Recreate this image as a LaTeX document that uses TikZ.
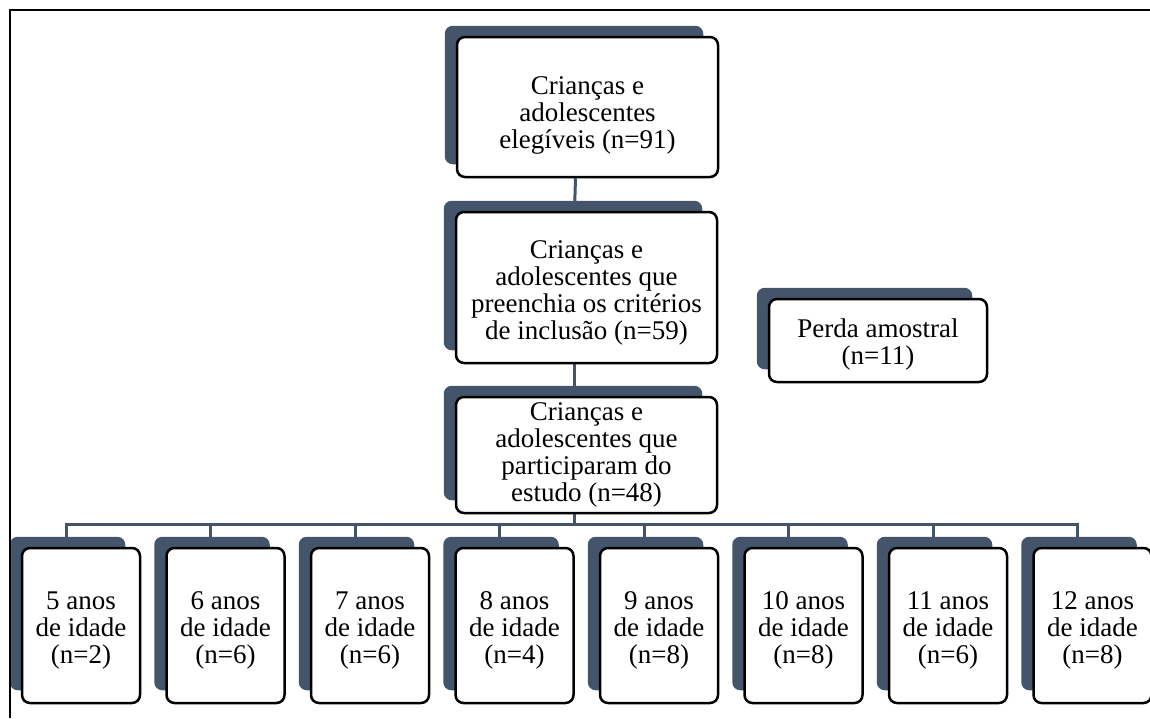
\documentclass[tikz,border=0pt]{standalone}
\usepackage{fontspec}
\setmainfont{Liberation Serif}
\usetikzlibrary{backgrounds}
\definecolor{slate}{HTML}{44546A}
\newcommand{\tstrut}[1]{\rule{0pt}{#1pt}}
\tikzset{
  box/.style={draw=black, line width=2.5pt, rounded corners=8pt, fill=white, align=center,
    inner sep=0pt, font=\fontsize{27}{27}\selectfont},
  link/.style={draw=slate, line width=3pt},
  shadowfill/.style={fill=slate, rounded corners=8pt}
}
\newcommand{\boxshadow}[1]{%
  \fill[shadowfill] ([xshift=-11pt,yshift=10pt]#1.north west) rectangle ([xshift=-16pt,yshift=14pt]#1.south east);}
\begin{document}
\begin{tikzpicture}[x=1pt,y=-1pt]
\useasboundingbox (0,0) rectangle (1150,718);
\draw[line width=2pt] (10,718) -- (10,10) -- (1150,10);

\node[box, minimum width=261pt, minimum height=140pt] (top) at (587.5,107) {\tstrut{35}Crianças e\\adolescentes\\elegíveis (n=91)};
\node[box, minimum width=261pt, minimum height=151pt] (crit) at (586.5,287.5) {\tstrut{29}Crianças e\\adolescentes que\\preenchia os critérios\\de inclusão (n=59)};
\node[box, minimum width=261pt, minimum height=116pt] (part) at (586.5,455) {Crianças e\\adolescentes que\\participaram do\\estudo (n=48)};
\node[box, minimum width=218pt, minimum height=83pt] (perda) at (878,340.5) {\tstrut{26}Perda amostral\\(n=11)};

\foreach \i/\a/\n in {0/5/2,1/6/6,2/7/6,3/8/4,4/9/8,5/10/8,6/11/6,7/12/8}{
  \node[box, minimum width=118pt, minimum height=155pt] (age\i) at ({81+\i*144.5},625.5) {\tstrut{27}\a\ anos\\de idade\\(n=\n)};
}

\begin{scope}[on background layer]
  \boxshadow{top}
  \boxshadow{crit}
  \boxshadow{part}
  \boxshadow{perda}
  \foreach \i in {0,...,7}{\boxshadow{age\i}}
  \draw[link] ([xshift=-12pt]top.south) -- ([xshift=-12pt]crit.north);
  \draw[link] ([xshift=-12pt]crit.south) -- ([xshift=-12pt]part.north);
  \coordinate (bus) at ([xshift=-12pt,yshift=-10pt]part.south);
  \draw[link] ([xshift=-12pt]part.south) -- (bus);
  \draw[link, line cap=rect] ([xshift=-15pt]age0.north |- bus) -- ([xshift=-15pt]age7.north |- bus);
  \foreach \i in {0,...,7}{
    \draw[link] ([xshift=-15pt]age\i.north |- bus) -- ([xshift=-15pt]age\i.north);
  }
\end{scope}
\end{tikzpicture}
\end{document}
